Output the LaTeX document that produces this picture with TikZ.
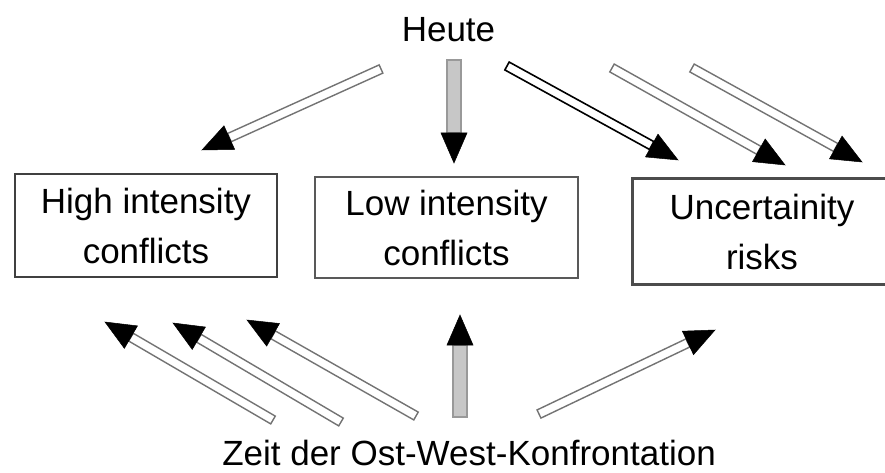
\documentclass[tikz,border=0pt]{standalone}
\usepackage{fontspec}
\setmainfont{Liberation Sans}
\usetikzlibrary{calc}
\tikzset{
  box/.style={draw=black!75, line width=2.8pt, align=center,
    font=\fontsize{35}{50}\selectfont, inner sep=0pt},
  boxline/.style={draw=black!70, line width=2.8pt},
  lbl/.style={font=\fontsize{35}{42}\selectfont, inner sep=0pt, anchor=base},
  shaft/.style={draw=black!55, line width=1.4pt, fill=white, line join=miter},
  darkshaft/.style={draw=black, line width=1.6pt},
  grayshaft/.style={fill=black!22, draw=black!40},
  head/.style={fill=black, draw=black, line width=0.5pt, line join=miter},
}
\newcommand\hollowarrow[4][]{%
  \coordinate (hb) at ($(#3)!30pt!(#2)$);
  \path[shaft,#1] ($(#2)!#4!90:(hb)$) -- ($(hb)!#4!-90:(#2)$)
     -- ($(hb)!#4!90:(#2)$) -- ($(#2)!#4!-90:(hb)$) -- cycle;
  \path[head] (#3) -- ($(hb)!13pt!90:(#3)$) -- ($(hb)!13pt!-90:(#3)$) -- cycle;
}
\begin{document}
\begin{tikzpicture}[x=1pt,y=-1pt]
\clip (0,0) rectangle (885,473);
\fill[white] (0,0) rectangle (885,473);

\node[lbl] (heute) at (448.5,42) {Heute};
\node[lbl] (zeit) at (469,465) {Zeit der Ost-West-Konfrontation};

\node[box, minimum width=262pt, minimum height=103pt] (high) at (146,225.5)
  {High intensity\\conflicts};
\node[box, draw=black!65, minimum width=263pt, minimum height=101pt] (low) at (446.5,227.5)
  {Low intensity\\conflicts};
\node[box, draw=none, minimum width=256pt, minimum height=103pt] (unc) at (762,231.5)
  {Uncertainity\\risks};
\draw[boxline] ($(unc.north east)+(30,0)$) -- (unc.north west)
  -- (unc.south west) -- ($(unc.south east)+(30,0)$);

% top arrows
\coordinate (a1s) at (381,69);  \coordinate (a1e) at (202,150);
\coordinate (a2s) at (454,60);  \coordinate (a2e) at (454,163);
\coordinate (a3s) at (507,66);  \coordinate (a3e) at (678,160);
\coordinate (a4s) at (612,68);  \coordinate (a4e) at (785,165);
\coordinate (a5s) at (692,68);  \coordinate (a5e) at (862,162);
% bottom arrows
\coordinate (b1s) at (273,420); \coordinate (b1e) at (105,322);
\coordinate (b2s) at (341,422); \coordinate (b2e) at (173,323);
\coordinate (b3s) at (416,416); \coordinate (b3e) at (247,320);
\coordinate (b4s) at (460,417); \coordinate (b4e) at (460,315);
\coordinate (b5s) at (539,414); \coordinate (b5e) at (715,330);

\hollowarrow{a1s}{a1e}{4.5pt}
\hollowarrow[grayshaft]{a2s}{a2e}{7pt}
\hollowarrow[darkshaft]{a3s}{a3e}{4.5pt}
\hollowarrow{a4s}{a4e}{4.5pt}
\hollowarrow{a5s}{a5e}{4.5pt}

\hollowarrow{b1s}{b1e}{4.5pt}
\hollowarrow{b2s}{b2e}{4.5pt}
\hollowarrow{b3s}{b3e}{4.5pt}
\hollowarrow[grayshaft]{b4s}{b4e}{7pt}
\hollowarrow{b5s}{b5e}{4.5pt}
\end{tikzpicture}
\end{document}
